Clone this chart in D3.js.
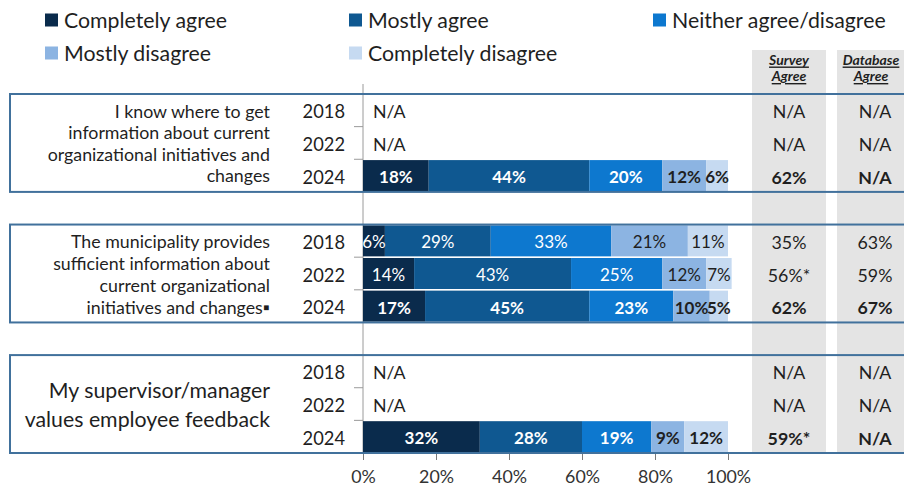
<!DOCTYPE html>
<html>
<head>
<meta charset="utf-8">
<script src="https://cdn.jsdelivr.net/npm/d3@7/dist/d3.min.js"></script>
<style>
  html, body { margin: 0; padding: 0; background: #fff; }
  svg { display: block; font-family: Lato, "Open Sans", sans-serif; }
</style>
</head>
<body>
<svg id="chart" width="904" height="488"></svg>
<script>
// ---- Data -------------------------------------------------------------
const seriesNames = ["Completely agree", "Mostly agree", "Neither agree/disagree", "Mostly disagree", "Completely disagree"];
const seriesColors = ["#0a2b4c", "#0f5891", "#0d78cf", "#8cb4e2", "#c6daf1"];

const years = ["2018", "2022", "2024"];
const questions = [
  ["I know where to get", "information about current", "organizational initiatives and", "changes"],
  ["The municipality provides", "sufficient information about", "current organizational", "initiatives and changes\u25AA"],
  ["My supervisor/manager", "values employee feedback"]
];

// one entry per question × year (2018, 2022, 2024); null = not asked
const completelyAgree    = [null, null, 18,   6, 14, 17,   null, null, 32];
const mostlyAgree        = [null, null, 44,  29, 43, 45,   null, null, 28];
const neitherAgree       = [null, null, 20,  33, 25, 23,   null, null, 19];
const mostlyDisagree     = [null, null, 12,  21, 12, 10,   null, null,  9];
const completelyDisagree = [null, null,  6,  11,  7,  5,   null, null, 12];

const surveyAgree      = [null, null, 62,  35, 56, 62,   null, null, 59];
const surveyStar       = [false, false, false, false, true, false, false, false, true];
const databaseAgree    = [null, null, null, 63, 59, 67,  null, null, null];

const xTicks = [0, 20, 40, 60, 80, 100];

// ---- Build rows --------------------------------------------------------
const seriesArrays = [completelyAgree, mostlyAgree, neitherAgree, mostlyDisagree, completelyDisagree];
const rows = [];
questions.forEach((q, qi) => {
  years.forEach((yr, yi) => {
    const i = qi * 3 + yi;
    const row = { key: `q${qi}-${yr}`, q: qi, year: yr, idx: i, hasData: completelyAgree[i] !== null };
    seriesNames.forEach((s, si) => { row[s] = seriesArrays[si][i] || 0; });
    rows.push(row);
  });
});
// category slots, with an empty slot between question groups
const slots = [];
rows.forEach((r, i) => {
  slots.push(r.key);
  if (i % 3 === 2 && i < rows.length - 1) slots.push(`gap${i}`);
});

// ---- Scales ------------------------------------------------------------
const svg = d3.select("#chart");
const x = d3.scaleLinear().domain([0, 100]).range([363, 728]);
const y = d3.scaleBand().domain(slots).range([94, 453]).paddingInner(0.05).paddingOuter(0.025);
const color = d3.scaleOrdinal().domain(seriesNames).range(seriesColors);
const textColor = "#1f1f1f";
const half = (y.step() - y.bandwidth()) / 2;

// ---- Side columns background ------------------------------------------
const colSurvey = { x0: 752, x1: 826, cx: 789 };
const colDb = { x0: 837, x1: 910, cx: 875 };
[colSurvey, colDb].forEach(c => {
  svg.append("rect").attr("x", c.x0).attr("y", 50).attr("width", c.x1 - c.x0)
    .attr("height", 453 - 50).attr("fill", "#e4e4e4");
});

// headers
const headers = [[colSurvey.cx, "Survey"], [871, "Database"]];
headers.forEach(([cx, t]) => {
  [t, "Agree"].forEach((line, li) => {
    svg.append("text").attr("x", cx).attr("y", 59 + li * 16.5)
      .attr("text-anchor", "middle").attr("dominant-baseline", "central")
      .attr("font-size", 14).attr("font-weight", "bold").attr("font-style", "italic")
      .attr("text-decoration", "underline").attr("fill", textColor).text(line);
  });
});

// ---- Axes --------------------------------------------------------------
// category axis line with ticks between slots
svg.append("line").attr("x1", x(0)).attr("x2", x(0)).attr("y1", 84).attr("y2", 453)
  .attr("stroke", "#9a9a9a").attr("stroke-width", 1);
const boundaries = slots.slice(1).map(s => y(s) - half);
svg.append("g").selectAll("line").data(boundaries).join("line")
  .attr("x1", x(0) - 9).attr("x2", x(0)).attr("y1", d => d).attr("y2", d => d)
  .attr("stroke", "#9a9a9a").attr("stroke-width", 1);

const xAxis = svg.append("g").attr("transform", "translate(0,453)")
  .call(d3.axisBottom(x).tickValues(xTicks).tickSize(7).tickFormat(d => d + "%"));
xAxis.select(".domain").attr("stroke", "#9a9a9a");
xAxis.selectAll(".tick line").attr("stroke", "#7a7a7a");
xAxis.selectAll(".tick text").attr("y", 17).attr("font-size", 17.8)
  .attr("font-family", "Lato, sans-serif").attr("fill", "#333");

// ---- Bars --------------------------------------------------------------
const dataRows = rows.filter(r => r.hasData);
const stacked = d3.stack().keys(seriesNames)(dataRows);

const barG = svg.append("g");
stacked.forEach(layer => {
  barG.append("g").selectAll("rect").data(layer).join("rect")
    .attr("x", d => x(d[0]))
    .attr("y", d => y(d.data.key))
    .attr("width", d => x(d[1]) - x(d[0]))
    .attr("height", y.bandwidth())
    .attr("fill", color(layer.key));
});
stacked.forEach((layer, si) => {
  barG.append("g").selectAll("text").data(layer).join("text")
    .attr("x", d => (x(d[0]) + x(d[1])) / 2)
    .attr("y", d => y(d.data.key) + y.bandwidth() / 2 + 1)
    .attr("text-anchor", "middle").attr("dominant-baseline", "central")
    .attr("font-size", 17)
    .attr("font-weight", d => d.data.year === "2024" ? "bold" : "normal")
    .attr("fill", si < 3 ? "#ffffff" : textColor)
    .text(d => (d[1] - d[0]) + "%");
});

// N/A rows
svg.append("g").selectAll("text").data(rows.filter(r => !r.hasData)).join("text")
  .attr("x", x(0) + 10).attr("y", d => y(d.key) + y.bandwidth() / 2 + 1)
  .attr("dominant-baseline", "central").attr("font-size", 17.8).attr("fill", textColor)
  .text("N/A");

// ---- Year labels and side values --------------------------------------
rows.forEach(r => {
  const cy = y(r.key) + y.bandwidth() / 2 + 1;
  const bold = r.year === "2024" ? "bold" : "normal";
  svg.append("text").attr("x", 345).attr("y", cy).attr("text-anchor", "end")
    .attr("dominant-baseline", "central").attr("font-size", 18.3).attr("fill", textColor)
    .text(r.year);
  const sv = surveyAgree[r.idx];
  svg.append("text").attr("x", colSurvey.cx).attr("y", cy).attr("text-anchor", "middle")
    .attr("dominant-baseline", "central").attr("font-size", 17.8).attr("font-weight", bold)
    .attr("fill", textColor)
    .text(sv === null ? "N/A" : sv + "%" + (surveyStar[r.idx] ? "*" : ""));
  const dv = databaseAgree[r.idx];
  svg.append("text").attr("x", colDb.cx).attr("y", cy).attr("text-anchor", "middle")
    .attr("dominant-baseline", "central").attr("font-size", 17.8).attr("font-weight", bold)
    .attr("fill", textColor)
    .text(dv === null ? "N/A" : dv + "%");
});

// ---- Question boxes and text ------------------------------------------
const qFont = [17.8, 17.8, 21.3];
const qLead = [21.5, 22, 29];
questions.forEach((lines, qi) => {
  const top = y(`q${qi}-2018`) - half;
  const bottom = y(`q${qi}-2024`) + y.bandwidth() + half;
  svg.append("rect").attr("x", 10).attr("y", top).attr("width", 920).attr("height", bottom - top)
    .attr("fill", "none").attr("stroke", "#41719c").attr("stroke-width", 2);
  const mid = (top + bottom) / 2;
  const n = lines.length;
  lines.forEach((line, li) => {
    svg.append("text").attr("x", 270)
      .attr("y", mid + (li - (n - 1) / 2) * qLead[qi])
      .attr("text-anchor", "end").attr("dominant-baseline", "central")
      .attr("font-size", qFont[qi]).attr("fill", textColor).text(line);
  });
});

// ---- Legend ------------------------------------------------------------
const legendPos = [[45, 20], [349, 20], [653, 20], [45, 53], [349, 53]];
const legend = svg.append("g").selectAll("g").data(seriesNames).join("g")
  .attr("transform", (d, i) => `translate(${legendPos[i][0]},${legendPos[i][1]})`);
legend.append("rect").attr("x", 0).attr("y", -6.5).attr("width", 13).attr("height", 13)
  .attr("fill", d => color(d));
legend.append("text").attr("x", 19).attr("y", 0).attr("dominant-baseline", "central")
  .attr("font-size", 21.3).attr("fill", textColor).text(d => d);
</script>
</body>
</html>
